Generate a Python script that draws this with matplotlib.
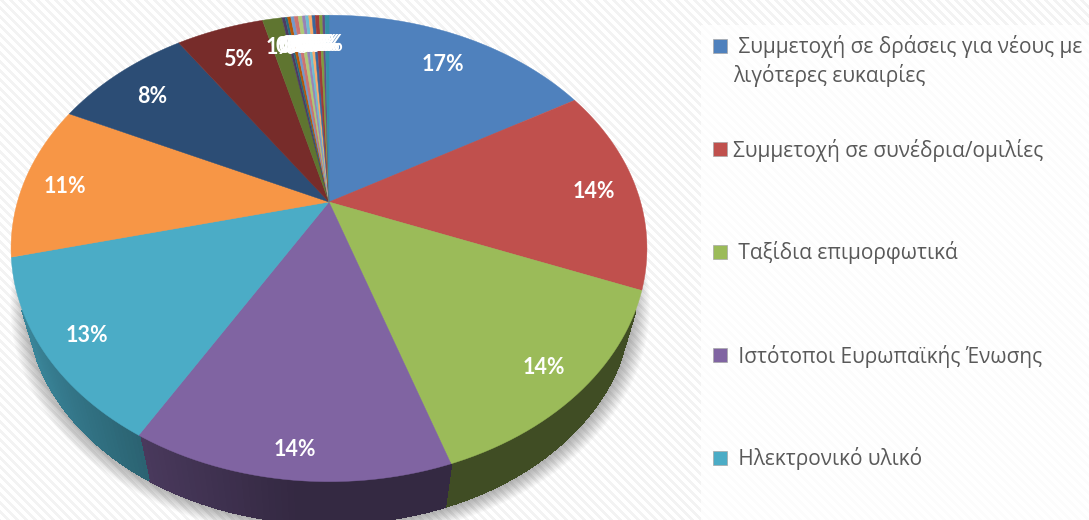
import numpy as np
import matplotlib
matplotlib.use("Agg")
import matplotlib.pyplot as plt
from matplotlib.collections import PolyCollection
from matplotlib.patches import Rectangle
from matplotlib.path import Path
from matplotlib.transforms import Affine2D, Transform

# ---- data ----
legend_labels = [
    " Συμμετοχή σε δράσεις για νέους με\nλιγότερες ευκαιρίες",
    "Συμμετοχή σε συνέδρια/ομιλίες",
    " Ταξίδια επιμορφωτικά",
    " Ιστότοποι Ευρωπαϊκής Ένωσης",
    " Ηλεκτρονικό υλικό",
]
values = [16.7, 14.3, 13.9, 13.6, 12.8, 10.8, 8.5, 5.4, 1.2,
          0.2, 0.15, 0.2, 0.2, 0.25, 0.25, 0.2, 0.2, 0.2, 0.2, 0.25, 0.2, 0.15, 0.25]
colors = ["#4f81bd", "#c0504d", "#9bbb59", "#8064a2", "#4bacc6", "#f79646",
          "#2c4d75", "#772c2a", "#5f7530", "#4d3b62", "#276a7c", "#b65708",
          "#729aca", "#cd7371", "#afc97a", "#9983b5", "#6fbdd1", "#f9ab6b",
          "#3a679c", "#9f3b38", "#7f9c40", "#664f83", "#358ea6"]
label_radii = [0.83, 0.86, 0.87, 0.90, 0.87, 0.87, 0.83, 0.82] + [0.84] * 15

# ---- perspective of the tilted disc, in pixels ----
CX, CY, A, B, K = 329.0, 202.0, 311.6, 224.0, 0.199
W, H = 1089, 520


def project(x, y):
    d = 1 + K * y
    return CX + A * x / d, CY - B * y / d


class DiscTransform(Transform):
    input_dims = output_dims = 2
    is_separable = False
    has_inverse = False

    def transform_non_affine(self, values):
        v = np.asarray(values, float)
        px, py = project(v[:, 0], v[:, 1])
        return np.column_stack([px, py])

    def transform_path_non_affine(self, path):
        polys = path.transformed(Affine2D().scale(2000)).to_polygons(closed_only=False)
        verts = np.vstack(polys) / 2000
        return Path(self.transform_non_affine(verts))


fig = plt.figure(figsize=(W / 100, H / 100), dpi=100)
ax = fig.add_axes([0, 0, 1, 1])

# pie surface
disc = DiscTransform()
wedges, _, autotexts = ax.pie(
    values, colors=colors, startangle=90, counterclock=False, autopct="%.0f%%",
    pctdistance=0.85, wedgeprops={"linewidth": 0.3, "zorder": 5},
    textprops={"color": "white", "fontsize": 15.5, "fontweight": "bold",
               "family": ["Lato", "DejaVu Sans"], "zorder": 6},
)
fractions = np.asarray(values) / np.sum(values)
edges = np.concatenate([[0], np.cumsum(fractions)]) * 2 * np.pi
label_shift = Affine2D().translate(1, 3.5)
for w, c in zip(wedges, colors):
    w.set_transform(disc + ax.transData)
    w.set_edgecolor(c)
for i, t in enumerate(autotexts):
    mid = (edges[i] + edges[i + 1]) / 2
    t.set_transform(disc + label_shift + ax.transData)
    t.set_position((label_radii[i] * np.sin(mid), label_radii[i] * np.cos(mid)))

ax.set_aspect("auto")
ax.set_axis_off()

# background stripes and the lighter legend panel
yy, xx = np.mgrid[0:H, 0:W]
stripes = ((xx - yy) % 9 < 4).astype(float)
bg = 1 - stripes * 0.045
panel = (xx >= 701) & (yy >= 25)
bg[panel] = 1 - stripes[panel] * 0.012
ax.imshow(bg, cmap="gray", vmin=0, vmax=1, extent=(0, W, H, 0), zorder=0,
          interpolation="bilinear", aspect="auto")
ax.set_xlim(0, W)
ax.set_ylim(H, 0)

# soft shadow below the wall
t = np.linspace(0, 2 * np.pi, 360)
ux, uy = project(np.sin(t), np.cos(t))
for d in range(16, 0, -1):
    s = 0.95 + d * 0.0035
    ax.fill(CX + s * (ux - CX) + 1, 259 + s * (uy - CY), color="black",
            alpha=0.018, lw=0, zorder=1)

# side wall: lower rim is the top rim scaled and shifted (front part only)
polys, faces = [], []
for i, c in enumerate(colors):
    n = max(2, int((edges[i + 1] - edges[i]) / np.radians(1.0)) + 2)
    ang = np.linspace(edges[i], edges[i + 1], n)
    px, py = project(np.sin(ang), np.cos(ang))
    lx, ly = CX + 0.95 * (px - CX), 258 + 0.95 * (py - CY)
    rgb = np.array(matplotlib.colors.to_rgb(c))
    for j in range(n - 1):
        if np.cos((ang[j] + ang[j + 1]) / 2) > -0.45:
            continue
        polys.append([(px[j], py[j]), (px[j + 1], py[j + 1]),
                      (lx[j + 1], ly[j + 1]), (lx[j], ly[j])])
        xm = np.sin((ang[j] + ang[j + 1]) / 2)
        f = np.interp(xm, [-1, -0.5, -0.1, 1], [0.82, 0.57, 0.41, 0.41])
        faces.append(rgb * f)
ax.add_collection(PolyCollection(polys, facecolors=faces, edgecolors=faces,
                                 linewidths=1.2, zorder=2, antialiaseds=False))

# legend
for i, lab in enumerate(legend_labels):
    y = 46 + 103 * i
    ax.add_patch(Rectangle((713, y - 7), 14, 14, facecolor=colors[i],
                           edgecolor="#a8a8a8", linewidth=0.5, zorder=7))
    ax.text(733, y - 10.5, lab, ha="left", va="top", fontsize=15.0, color="#595959",
            family=["Open Sans", "DejaVu Sans"], linespacing=1.3, zorder=7)

fig.savefig("out.png", dpi=100)
